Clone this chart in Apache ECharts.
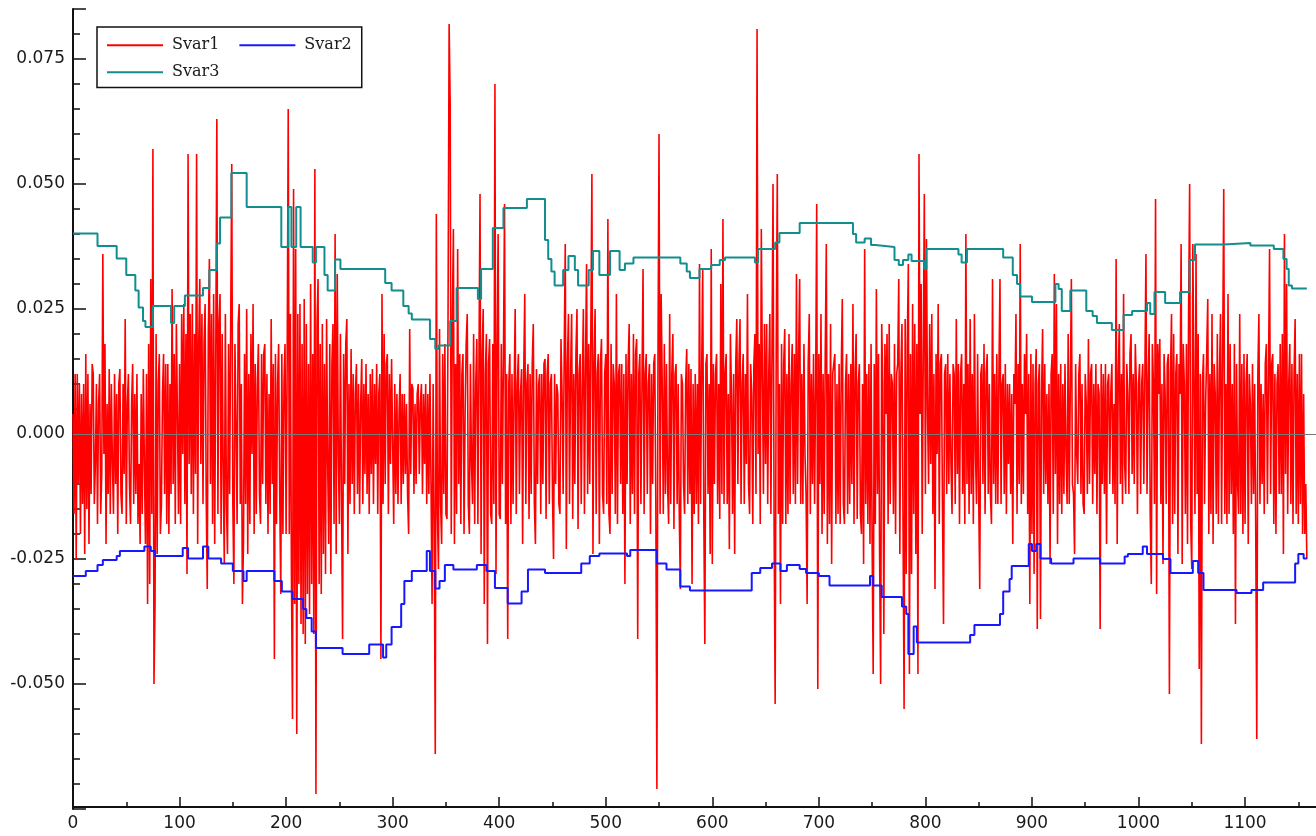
<!DOCTYPE html>
<html>
<head>
<meta charset="utf-8">
<script src="https://cdn.jsdelivr.net/npm/echarts@6/dist/echarts.min.js"></script>
<style>
  html, body { margin: 0; padding: 0; background: #ffffff; }
  #chart { width: 1316px; height: 836px; }
</style>
</head>
<body>
<div id="chart"></div>
<script>
// Series names shown in the legend
const seriesNames = ['Svar1', 'Svar2', 'Svar3'];

// Svar1: one value per sample index (0 .. 1158)
const svar1 = [
  0.004, -0.016, 0.012, -0.025, 0.012, -0.010, 0.010, -0.020, 0.008, -0.014,
  0.010, -0.024, 0.016, -0.015, 0.012, -0.022, 0.006, -0.012, 0.014, 0.012,
  -0.014, -0.006, 0.010, -0.018, 0.006, 0.012, -0.016, -0.008, 0.036, -0.004,
  0.018, -0.022, 0.006, -0.012, 0.013, -0.016, 0.010, -0.006, -0.016, 0.012,
  -0.010, 0.008, -0.020, 0.010, 0.013, -0.012, -0.016, 0.010, -0.008, 0.023,
  -0.018, 0.006, 0.012, -0.010, -0.018, 0.006, 0.014, -0.014, 0.008, -0.012,
  0.012, -0.018, -0.006, -0.022, 0.008, -0.016, 0.013, -0.006, -0.022, 0.012,
  -0.034, 0.018, -0.030, 0.031, -0.016, 0.057, -0.050, -0.034, 0.020, -0.024,
  0.010, 0.016, -0.020, -0.014, 0.008, 0.016, -0.012, 0.014, -0.018, 0.014,
  -0.020, 0.010, -0.012, 0.029, -0.010, 0.016, -0.018, 0.022, 0.004, -0.016,
  0.014, -0.018, 0.024, -0.004, 0.026, -0.014, 0.020, -0.028, 0.056, -0.006,
  0.024, -0.012, 0.026, -0.016, 0.020, -0.008, 0.056, -0.022, 0.018, 0.031,
  -0.006, 0.024, -0.014, 0.018, 0.026, -0.012, -0.031, 0.020, 0.035, -0.010,
  0.024, -0.018, 0.028, -0.022, 0.016, 0.063, -0.016, 0.022, 0.028, -0.020,
  0.020, -0.008, -0.026, 0.024, -0.014, -0.024, 0.018, -0.012, 0.022, 0.054,
  -0.014, -0.030, 0.018, 0.002, -0.018, 0.022, 0.026, -0.014, 0.010, -0.034,
  -0.022, 0.016, -0.014, 0.025, -0.024, 0.012, -0.018, 0.020, -0.004, 0.026,
  -0.020, 0.014, -0.016, 0.010, 0.018, -0.012, -0.018, 0.016, -0.010, 0.016,
  0.018, -0.014, 0.012, -0.020, 0.008, -0.016, 0.023, -0.010, 0.014, -0.045,
  0.016, -0.018, 0.010, 0.018, -0.012, -0.032, 0.016, -0.020, 0.010, 0.018,
  -0.020, 0.014, 0.065, -0.020, 0.024, -0.028, -0.057, 0.049, -0.034, 0.037,
  -0.060, 0.024, -0.030, 0.026, -0.038, 0.018, -0.040, 0.027, -0.042, 0.022,
  -0.032, 0.014, -0.036, 0.030, -0.030, 0.016, -0.040, 0.053, -0.072, 0.022,
  0.031, -0.030, 0.018, -0.032, 0.022, -0.024, 0.014, -0.028, 0.023, -0.006,
  -0.022, 0.018, -0.028, 0.014, 0.022, -0.018, 0.040, -0.024, 0.032, -0.004,
  -0.018, 0.020, -0.012, -0.041, 0.016, -0.010, 0.018, 0.023, -0.024, 0.010,
  -0.014, 0.017, -0.010, 0.012, -0.016, 0.008, 0.014, -0.012, 0.010, -0.016,
  0.006, 0.015, -0.014, 0.010, -0.008, 0.014, -0.012, 0.008, -0.016, 0.012,
  -0.008, 0.013, -0.014, 0.010, -0.006, 0.014, -0.016, 0.008, 0.012, -0.045,
  0.028, -0.014, 0.020, -0.010, 0.014, 0.016, -0.016, 0.012, -0.006, 0.015,
  0.015, -0.018, 0.010, -0.012, 0.008, -0.014, 0.004, 0.012, -0.014, 0.008,
  -0.010, 0.008, -0.008, 0.006, -0.012, -0.020, 0.021, -0.008, 0.010, 0.009,
  -0.012, 0.006, -0.010, 0.008, 0.010, -0.008, 0.006, 0.010, -0.012, 0.008,
  -0.006, 0.010, -0.014, 0.008, -0.012, 0.012, -0.010, -0.034, 0.010, -0.018,
  -0.064, 0.044, -0.016, -0.027, 0.021, -0.014, -0.022, 0.016, -0.012, 0.018,
  -0.016, -0.017, 0.024, 0.082, 0.066, -0.020, 0.022, 0.041, -0.022, 0.014,
  -0.016, 0.037, -0.010, 0.016, -0.018, 0.012, 0.016, -0.020, 0.004, 0.018,
  0.024, -0.014, -0.020, 0.014, -0.006, -0.014, 0.020, -0.018, 0.010, 0.019,
  -0.018, 0.014, 0.048, -0.024, 0.016, 0.025, -0.034, 0.012, 0.020, -0.042,
  0.014, 0.019, -0.016, -0.018, 0.018, -0.014, 0.070, -0.028, 0.016, 0.040,
  -0.016, -0.017, 0.018, -0.010, 0.016, 0.046, -0.018, 0.012, -0.041, 0.010,
  0.016, -0.018, 0.012, -0.014, 0.008, 0.025, -0.016, 0.010, 0.016, -0.012,
  0.008, 0.013, -0.022, 0.012, 0.028, -0.014, 0.010, 0.014, -0.017, 0.012,
  -0.012, 0.014, 0.022, -0.014, -0.022, 0.013, -0.010, 0.010, 0.012, -0.016,
  0.012, -0.010, 0.014, 0.015, -0.017, 0.012, 0.016, -0.014, 0.010, 0.012,
  -0.012, -0.025, 0.012, -0.010, 0.010, 0.008, -0.014, -0.016, 0.019, 0.008,
  -0.012, 0.016, 0.038, -0.023, 0.014, 0.024, -0.014, 0.012, 0.024, -0.017,
  0.012, -0.010, 0.016, 0.025, -0.019, 0.012, 0.016, -0.014, 0.010, 0.025,
  -0.016, 0.014, 0.034, -0.012, 0.018, -0.010, 0.020, 0.052, -0.024, 0.014,
  0.025, -0.016, 0.012, 0.016, -0.022, 0.014, 0.019, -0.012, -0.016, 0.012,
  0.016, -0.014, 0.043, -0.016, -0.020, 0.018, -0.012, 0.014, 0.010, -0.016,
  0.028, -0.018, 0.012, 0.014, -0.010, 0.014, -0.016, 0.012, -0.030, 0.016,
  -0.010, 0.014, 0.022, -0.018, 0.012, -0.012, 0.020, -0.016, 0.016, 0.019,
  -0.041, 0.012, 0.016, -0.014, 0.010, 0.033, -0.016, 0.012, 0.016, -0.012,
  0.010, 0.014, -0.020, 0.012, -0.010, 0.014, 0.016, -0.014, -0.071, 0.014,
  0.060, -0.016, 0.028, 0.010, -0.016, 0.018, -0.012, 0.014, -0.010, -0.018,
  0.024, -0.014, 0.012, 0.020, -0.019, 0.012, 0.014, -0.014, 0.010, -0.016,
  -0.031, 0.012, 0.010, -0.010, -0.016, 0.010, 0.017, -0.014, 0.014, -0.012,
  0.013, -0.030, 0.010, -0.016, 0.012, -0.014, 0.010, -0.018, 0.034, -0.014,
  0.012, 0.033, -0.016, -0.042, 0.014, 0.016, -0.012, 0.010, -0.024, 0.037,
  -0.026, 0.014, -0.010, 0.012, 0.016, -0.014, 0.010, -0.017, 0.030, -0.012,
  0.043, -0.014, 0.012, 0.016, -0.014, 0.008, -0.023, 0.020, 0.008, -0.016,
  0.012, -0.024, 0.014, 0.023, -0.010, 0.014, 0.023, -0.014, 0.010, 0.016,
  -0.014, 0.012, -0.006, 0.028, -0.010, -0.016, 0.014, 0.008, -0.018, 0.014,
  0.020, -0.012, 0.081, -0.004, 0.018, -0.018, 0.041, 0.012, -0.012, 0.022,
  -0.006, 0.022, -0.014, 0.012, 0.024, -0.016, 0.016, 0.050, -0.018, -0.054,
  0.018, 0.052, -0.016, 0.010, -0.034, 0.018, -0.018, 0.014, 0.021, -0.018,
  0.012, -0.016, 0.020, -0.014, 0.010, 0.018, -0.012, 0.016, -0.014, 0.032,
  -0.010, 0.016, 0.031, -0.014, 0.012, -0.014, 0.018, -0.004, -0.012, -0.034,
  0.014, 0.024, -0.016, 0.012, -0.010, 0.016, -0.014, 0.010, 0.046, -0.051,
  0.016, -0.010, 0.024, -0.020, 0.012, -0.016, 0.016, 0.038, -0.022, 0.012,
  -0.018, 0.022, -0.026, 0.012, 0.014, 0.016, -0.018, 0.010, -0.016, 0.014,
  -0.018, 0.012, 0.027, -0.014, -0.018, 0.010, 0.016, -0.016, 0.012, -0.014,
  0.014, -0.010, 0.026, -0.018, 0.012, 0.020, -0.017, 0.010, 0.014, -0.016,
  -0.020, 0.010, -0.026, 0.037, -0.014, 0.012, -0.018, 0.014, -0.022, 0.018,
  -0.022, -0.048, 0.014, -0.018, 0.029, -0.012, 0.016, -0.024, -0.050, 0.022,
  0.010, -0.040, 0.018, 0.004, 0.020, -0.018, 0.022, -0.014, 0.012, 0.010,
  -0.016, 0.018, -0.020, 0.012, 0.014, 0.031, -0.024, 0.012, 0.022, -0.018,
  -0.055, 0.023, -0.028, 0.018, 0.034, -0.048, 0.016, -0.028, 0.026, -0.016,
  0.022, -0.024, 0.018, -0.048, 0.056, 0.004, 0.030, -0.020, 0.016, 0.048,
  -0.012, 0.039, 0.004, -0.010, 0.022, -0.006, 0.024, -0.016, 0.012, -0.031,
  0.016, -0.004, 0.026, -0.018, 0.014, 0.016, -0.014, -0.038, 0.012, 0.014,
  -0.012, 0.016, -0.010, 0.012, -0.006, -0.016, 0.014, 0.012, -0.014, 0.023,
  -0.008, 0.014, -0.018, 0.012, 0.016, -0.012, 0.010, -0.018, 0.040, -0.010,
  0.014, -0.016, 0.023, -0.012, 0.012, -0.018, 0.024, -0.004, -0.014, 0.016,
  -0.012, -0.031, 0.012, 0.014, -0.010, 0.018, -0.016, 0.012, 0.016, -0.012,
  0.010, -0.012, -0.018, 0.031, -0.010, 0.012, -0.014, 0.016, -0.014, 0.012,
  0.031, -0.014, 0.010, 0.012, -0.012, 0.014, -0.016, 0.010, -0.006, 0.010,
  -0.012, 0.008, -0.022, 0.012, 0.006, 0.024, -0.016, 0.014, -0.010, 0.038,
  -0.014, 0.010, -0.012, 0.016, 0.004, 0.020, -0.016, 0.012, -0.034, 0.016,
  -0.020, 0.014, -0.028, 0.010, 0.017, -0.039, 0.010, 0.014, -0.037, 0.008,
  0.021, -0.012, 0.014, -0.010, 0.008, -0.014, 0.010, -0.026, 0.012, 0.016,
  -0.016, 0.032, -0.008, 0.026, -0.022, 0.012, -0.014, 0.014, -0.016, 0.010,
  -0.012, 0.014, -0.004, -0.014, 0.020, -0.014, 0.010, 0.031, -0.010, -0.012,
  -0.024, 0.014, -0.004, -0.010, 0.012, 0.016, -0.012, 0.010, -0.014, -0.016,
  0.012, 0.006, -0.012, 0.019, -0.010, 0.012, 0.014, -0.014, 0.010, -0.008,
  0.014, -0.016, 0.010, 0.008, -0.039, 0.014, -0.010, 0.012, -0.012, 0.014,
  -0.022, 0.010, 0.012, -0.010, 0.008, 0.014, -0.012, 0.006, -0.014, 0.035,
  -0.022, 0.012, 0.022, -0.010, 0.012, -0.014, 0.028, -0.006, -0.012, 0.014,
  0.008, -0.012, 0.016, 0.020, -0.008, 0.012, -0.010, 0.018, 0.010, -0.016,
  0.010, 0.014, -0.012, 0.010, 0.014, -0.010, 0.012, 0.036, -0.012, 0.010,
  0.020, -0.016, -0.030, 0.018, 0.010, -0.014, 0.047, -0.032, 0.018, 0.008,
  0.019, -0.014, 0.010, -0.026, 0.016, 0.008, -0.014, 0.014, 0.016, -0.052,
  0.012, 0.024, -0.018, 0.020, -0.016, 0.012, 0.016, -0.024, 0.014, 0.008,
  0.038, -0.026, 0.018, 0.010, -0.016, 0.018, -0.022, 0.024, 0.050, -0.018,
  -0.027, 0.038, 0.010, -0.016, 0.036, -0.012, 0.020, -0.047, 0.012, -0.062,
  0.010, 0.016, -0.014, 0.006, 0.016, 0.027, -0.020, 0.012, -0.016, 0.024,
  -0.022, 0.014, 0.008, -0.016, 0.020, -0.018, 0.012, 0.024, -0.018, 0.016,
  0.049, -0.016, 0.010, -0.018, 0.028, -0.016, 0.018, -0.012, 0.010, -0.020,
  0.018, -0.038, 0.014, -0.010, -0.016, 0.024, -0.016, 0.014, -0.020, 0.016,
  -0.018, 0.010, 0.016, -0.022, 0.012, 0.006, -0.014, 0.014, -0.012, 0.010,
  -0.018, -0.061, 0.012, 0.024, -0.014, 0.010, -0.010, 0.008, -0.016, 0.014,
  0.018, -0.014, 0.012, 0.037, -0.012, 0.014, 0.016, -0.018, 0.012, -0.020,
  0.010, 0.014, -0.012, 0.018, -0.012, 0.020, -0.024, 0.040, -0.008, 0.030,
  -0.016, 0.010, 0.018, -0.014, 0.014, -0.018, 0.012, 0.023, -0.016, 0.012,
  -0.018, 0.016, -0.014, 0.016, -0.020, 0.008, -0.020, -0.010, -0.025
];

// Svar2: step levels; each level holds from its x until the next x
const svar2X = [
  0, 12, 23, 28, 41, 44, 67, 73, 77, 103, 108, 122, 127, 139, 150, 160, 163,
  189, 196, 206, 216, 219, 224, 228, 253, 278, 291, 294, 299, 308, 311, 318,
  332, 335, 340, 344, 349, 357, 379, 388, 396, 408, 421, 427, 443, 477, 485,
  494, 520, 523, 548, 557, 570, 579, 637, 645, 656, 664, 670, 682, 688, 700,
  710, 748, 751, 759, 778, 782, 784, 789, 792, 842, 846, 870, 873, 879, 881,
  897, 900, 904, 908, 918, 939, 964, 987, 990, 1004, 1008, 1023, 1030, 1051,
  1056, 1061, 1092, 1106, 1117, 1147, 1150, 1155, 1158
];
const svar2Y = [
  -0.0284, -0.0274, -0.0262, -0.0252, -0.0244, -0.0234, -0.0225, -0.0234, -0.0244, -0.0228, -0.0249, -0.0225, -0.0249, -0.0259, -0.0274, -0.0294, -0.0274,
  -0.0294, -0.0315, -0.0330, -0.0350, -0.0368, -0.0395, -0.0428, -0.0440, -0.0421, -0.0447, -0.0421, -0.0386, -0.0340, -0.0294, -0.0274,
  -0.0234, -0.0274, -0.0309, -0.0294, -0.0262, -0.0271, -0.0262, -0.0274, -0.0308, -0.0339, -0.0315, -0.0271, -0.0278, -0.0259, -0.0244,
  -0.0239, -0.0244, -0.0232, -0.0259, -0.0271, -0.0305, -0.0313, -0.0278, -0.0268, -0.0259, -0.0274, -0.0262, -0.0270, -0.0278, -0.0284,
  -0.0303, -0.0284, -0.0303, -0.0326, -0.0345, -0.0360, -0.0440, -0.0385, -0.0417, -0.0402, -0.0382, -0.0360, -0.0315, -0.0290, -0.0264,
  -0.0220, -0.0234, -0.0220, -0.0249, -0.0259, -0.0249, -0.0259, -0.0245, -0.0240, -0.0225, -0.0240, -0.0250, -0.0278, -0.0254,
  -0.0278, -0.0312, -0.0318, -0.0312, -0.0297, -0.0259, -0.0240, -0.0249, -0.0249
];

// Svar3: step levels; each level holds from its x until the next x
const svar3X = [
  0, 23, 41, 50, 58.5, 61.6, 65.7, 68, 75, 92, 95, 105, 122, 128, 135, 138,
  148.6, 163, 195.5, 202, 205, 209.5, 213.6, 225, 228, 236, 239, 246, 251,
  293, 299, 310, 315, 318, 335, 340, 343, 354, 360, 380, 383, 394, 404, 426,
  443, 446, 449, 452, 460, 465, 471, 474, 484, 488, 494, 504, 513, 518, 526,
  570, 576, 579, 588, 599, 607, 612, 640, 643, 659, 663, 682, 732, 735, 743,
  749, 753, 771, 775, 779, 784, 787, 799, 801, 831, 834, 839, 873, 882, 886,
  889, 900, 922, 925, 928, 936, 951, 957, 961, 975, 986, 994, 1008, 1011,
  1015, 1025, 1039, 1048, 1053, 1080, 1105, 1127, 1136, 1139, 1141, 1144, 1158
];
const svar3Y = [
  0.0401, 0.0376, 0.0351, 0.0318, 0.0287, 0.0253, 0.0226, 0.0214, 0.0256, 0.0222, 0.0256, 0.0277, 0.0292, 0.0328, 0.0381, 0.0433,
  0.0522, 0.0454, 0.0374, 0.0454, 0.0374, 0.0454, 0.0374, 0.0343, 0.0374, 0.0318, 0.0287, 0.0349, 0.0330,
  0.0302, 0.0287, 0.0256, 0.0241, 0.0229, 0.0190, 0.0170, 0.0177, 0.0226, 0.0292, 0.0270, 0.0330, 0.0412, 0.0452, 0.0470,
  0.0388, 0.0350, 0.0325, 0.0297, 0.0328, 0.0356, 0.0328, 0.0297, 0.0328, 0.0366, 0.0318, 0.0366, 0.0328, 0.0341, 0.0353,
  0.0341, 0.0325, 0.0312, 0.0330, 0.0338, 0.0348, 0.0353, 0.0343, 0.0370, 0.0383, 0.0402, 0.0422, 0.0400, 0.0383, 0.0391,
  0.0378, 0.0374, 0.0348, 0.0338, 0.0348, 0.0359, 0.0346, 0.0330, 0.0370, 0.0359, 0.0343, 0.0370, 0.0353, 0.0318, 0.0300,
  0.0275, 0.0264, 0.0300, 0.0290, 0.0246, 0.0287, 0.0246, 0.0236, 0.0222, 0.0208, 0.0238, 0.0246, 0.0262, 0.0240,
  0.0284, 0.0262, 0.0284, 0.0348, 0.0379, 0.0382, 0.0377, 0.0370, 0.0350, 0.0330, 0.0297, 0.0291, 0.0291
];

const seriesColors = ['#ff0000', '#1818ff', '#128e8e'];

const chart = echarts.init(document.getElementById('chart'), null, { renderer: 'canvas' });

const axisFont = { fontFamily: 'DejaVu Sans', fontSize: 17, color: '#1a1a1a' };

// Shared legend look; the framed legend holds the first row, the second row sits inside its frame
const legendBase = {
  left: 97,
  orient: 'horizontal',
  itemGap: 20,
  itemWidth: 56,
  itemHeight: 2,
  icon: 'rect',
  textStyle: { fontFamily: 'DejaVu Serif', fontSize: 16, color: '#1a1a1a', padding: [0, 0, 0, 4] }
};

chart.setOption({
  animation: false,
  backgroundColor: '#ffffff',
  grid: { left: 73, right: -35.6, top: 9, bottom: 27, containLabel: false, outerBoundsMode: 'none' },
  legend: [
    {
      ...legendBase,
      data: seriesNames.slice(0, 2),
      top: 27,
      padding: [10.25, 10, 34.25, 10],
      borderColor: '#111',
      borderWidth: 1.5,
      backgroundColor: 'transparent'
    },
    {
      ...legendBase,
      data: seriesNames.slice(2),
      top: 64.25,
      padding: [0, 10, 0, 10],
      borderWidth: 0,
      backgroundColor: 'transparent',
      z: 5
    }
  ],
  xAxis: {
    type: 'value',
    min: 0,
    max: 1200,
    interval: 100,
    offset: -2,
    axisLine: { show: true, onZero: false, lineStyle: { color: '#111', width: 2 } },
    axisTick: { show: true, inside: true, length: 10, lineStyle: { color: '#111', width: 1.5 } },
    minorTick: { show: true, splitNumber: 2, length: 5, lineStyle: { color: '#111', width: 1.5 } },
    splitLine: { show: false },
    axisLabel: { ...axisFont, margin: 8, formatter: v => String(v) }
  },
  yAxis: {
    type: 'value',
    min: -0.075,
    max: 0.085,
    interval: 0.025,
    axisLine: { show: true, lineStyle: { color: '#111', width: 2 } },
    axisTick: { show: true, inside: true, length: 13, lineStyle: { color: '#111', width: 1.5 } },
    minorTick: { show: true, splitNumber: 5, length: 7, lineStyle: { color: '#111', width: 1.5 } },
    splitLine: { show: false },
    axisLabel: { ...axisFont, margin: 8, showMinLabel: false, showMaxLabel: false, formatter: v => v.toFixed(3) }
  },
  series: [
    {
      name: seriesNames[0],
      type: 'line',
      data: svar1.map((v, i) => [i, v]),
      showSymbol: false,
      symbol: 'none',
      color: seriesColors[0],
      lineStyle: { color: seriesColors[0], width: 1.6 },
      z: 2
    },
    {
      name: seriesNames[1],
      type: 'line',
      step: 'end',
      data: svar2X.map((x, i) => [x, svar2Y[i]]),
      showSymbol: false,
      symbol: 'none',
      color: seriesColors[1],
      lineStyle: { color: seriesColors[1], width: 2 },
      z: 3
    },
    {
      name: seriesNames[2],
      type: 'line',
      step: 'end',
      data: svar3X.map((x, i) => [x, svar3Y[i]]),
      showSymbol: false,
      symbol: 'none',
      color: seriesColors[2],
      lineStyle: { color: seriesColors[2], width: 2 },
      z: 4,
      markLine: {
        silent: true,
        symbol: ['none', 'none'],
        label: { show: false },
        lineStyle: { color: '#777777', width: 1, type: 'solid' },
        data: [{ yAxis: 0 }]
      }
    }
  ]
});
</script>
</body>
</html>
